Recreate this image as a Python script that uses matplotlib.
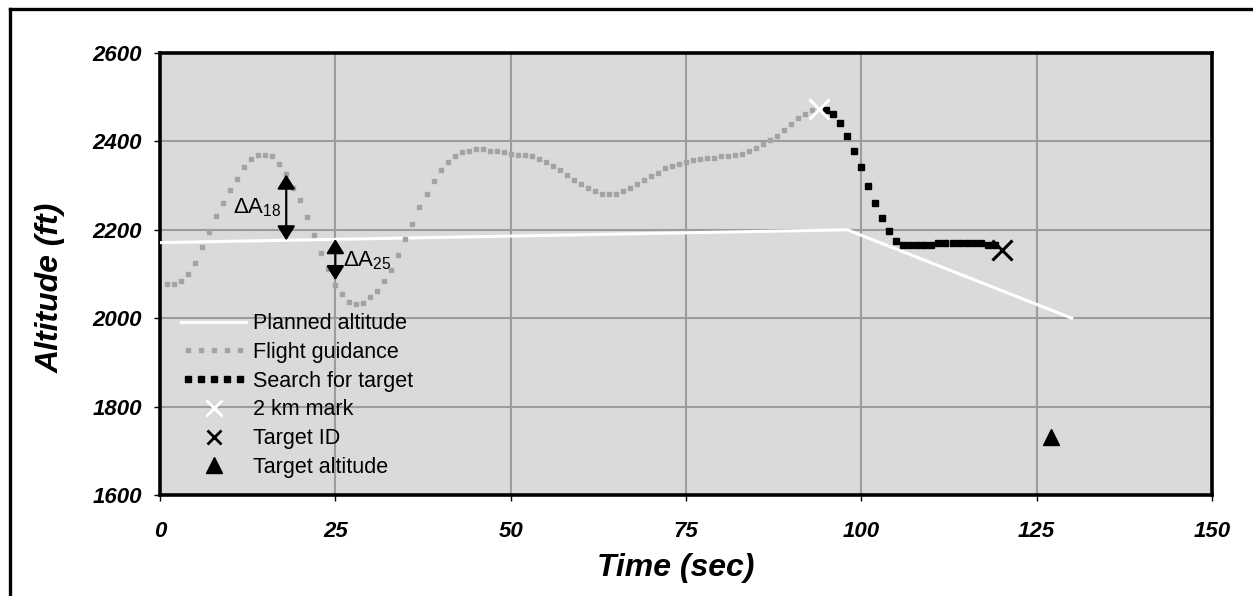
import numpy as np
import matplotlib
matplotlib.use('Agg')
import matplotlib.pyplot as plt
from matplotlib.lines import Line2D
from matplotlib.legend_handler import HandlerLine2D

#===============================================================================
# data
guid_t   = list(range(1, 95))
guid_alt = [2078, 2078, 2085, 2100, 2125, 2160, 2194, 2231, 2261, 2291,
            2316, 2342, 2361, 2370, 2370, 2366, 2348, 2327, 2294, 2267,
            2228, 2188, 2148, 2112, 2076, 2054, 2037, 2032, 2035, 2047,
            2062, 2084, 2109, 2144, 2179, 2213, 2251, 2282, 2310, 2335,
            2354, 2366, 2376, 2379, 2382, 2382, 2379, 2379, 2375, 2372,
            2369, 2369, 2366, 2360, 2354, 2344, 2335, 2325, 2313, 2303,
            2294, 2288, 2281, 2281, 2281, 2288, 2294, 2303, 2313, 2322,
            2329, 2339, 2345, 2348, 2354, 2357, 2360, 2363, 2363, 2366,
            2366, 2369, 2372, 2379, 2385, 2395, 2404, 2413, 2426, 2439,
            2452, 2462, 2471, 2473]

search_t   = list(range(95, 120))
search_alt = [2471, 2461, 2442, 2413, 2379, 2342, 2298, 2260, 2226, 2197,
              2175, 2166, 2166, 2166, 2166, 2166, 2170, 2170, 2170, 2170,
              2170, 2170, 2170, 2166, 2166]

plan_t   = [0, 98, 130]
plan_alt = [2171, 2200, 2000]

mark2km   = (94, 2473)
targetid  = (120, 2155)
targetalt = (127, 1732)

# delta annotations: time, planned alt, flown alt, label, label pos
delta_t     = [18, 25]
delta_plan  = [2176, 2179]
delta_fly   = [2325, 2086]
delta_lbl   = ['18', '25']
delta_lbl_x = [10.4, 26.1]
delta_lbl_y = [2251, 2131]

xticks = [0, 25, 50, 75, 100, 125, 150]
yticks = [1600, 1800, 2000, 2200, 2400, 2600]
#===============================================================================
plt.rcParams['font.family'] = 'Liberation Sans'
plt.rcParams['mathtext.fontset'] = 'custom'
plt.rcParams['mathtext.rm'] = 'Liberation Sans'
plt.rcParams['mathtext.it'] = 'Liberation Sans:italic'

W, H = 1253, 596
fig = plt.figure(figsize=(W/100., H/100.), dpi=100)
ax = fig.add_axes([160./W, 1-495./H, (1212.-160.)/W, (495.-53.)/H])
ax.set_facecolor('#D9DBDB')

ax.plot(plan_t, plan_alt, color='white', lw=2.2, zorder=3)
ax.plot(guid_t, guid_alt, ls='none', marker='s', ms=3.3, color='#A3A3A3',
        mec='#A3A3A3', zorder=3)
ax.plot(search_t, search_alt, ls='none', marker='s', ms=3.8, color='black', zorder=4)
ax.plot(*mark2km, ls='none', marker='x', ms=15, mew=2.2, color='white', zorder=5)
ax.plot(*targetid, ls='none', marker='x', ms=15, mew=2.2, color='black', zorder=5)
ax.plot(*targetalt, ls='none', marker='^', ms=12, color='black', zorder=5)

for i in range(len(delta_t)):
    ax.annotate('', xy=(delta_t[i], delta_plan[i]), xytext=(delta_t[i], delta_fly[i]),
                arrowprops=dict(arrowstyle='<|-|>,head_length=0.48,head_width=0.3',
                                color='black', lw=1.6,
                                mutation_scale=18, shrinkA=0, shrinkB=0), zorder=6)
    ax.text(delta_lbl_x[i], delta_lbl_y[i], r'$\mathregular{\Delta A_{%s}}$' % delta_lbl[i],
            fontsize=16, ha='left', va='center', zorder=6)

ax.set_xlim(0, 150)
ax.set_ylim(1600, 2600)
ax.set_xticks(xticks)
ax.set_yticks(yticks)
ax.grid(True, color='#9C9C9C', lw=1.5)
ax.set_axisbelow(True)
for s in ax.spines.values():
    s.set_linewidth(2.6)
    s.set_color('black')
ax.tick_params(direction='out', length=4, width=1)
ax.tick_params(axis='x', pad=15)
ax.tick_params(axis='y', pad=9)
for lab in ax.get_xticklabels() + ax.get_yticklabels():
    lab.set_fontsize(16)
    lab.set_fontweight('bold')
    lab.set_fontstyle('italic')

ax.set_xlabel('Time (sec)', fontsize=23, fontweight='bold', fontstyle='italic')
ax.set_ylabel('Altitude (ft)', fontsize=23, fontweight='bold', fontstyle='italic')
ax.xaxis.set_label_coords(0.49, -0.132)
ax.yaxis.set_label_coords(-0.09, 0.468)

# legend proxies
h = [Line2D([], [], color='white', lw=2.2),
     Line2D([], [], ls='none', marker='s', ms=3.3, color='#A3A3A3'),
     Line2D([], [], ls='none', marker='s', ms=3.8, color='black'),
     Line2D([], [], ls='none', marker='x', ms=11, mew=2, color='white'),
     Line2D([], [], ls='none', marker='x', ms=10, mew=2, color='black'),
     Line2D([], [], ls='none', marker='^', ms=11, color='black')]
labels = ['Planned altitude', 'Flight guidance', 'Search for target',
          '2 km mark', 'Target ID', 'Target altitude']
hm = {h[1]: HandlerLine2D(numpoints=5), h[2]: HandlerLine2D(numpoints=5)}
leg = ax.legend(h, labels, loc='lower left', bbox_to_anchor=(0.002, -0.005),
                frameon=False, fontsize=15.5, handlelength=3.0, handletextpad=0.3,
                labelspacing=0.36, numpoints=1, handler_map=hm)

# outer frame (left and top edges only are visible)
fig.add_artist(Line2D([10./W, 10./W], [0, 1-9./H], transform=fig.transFigure,
                      color='black', lw=2.4))
fig.add_artist(Line2D([10./W, 1], [1-9./H, 1-9./H], transform=fig.transFigure,
                      color='black', lw=2.4))

fig.savefig('out.png', dpi=100)
